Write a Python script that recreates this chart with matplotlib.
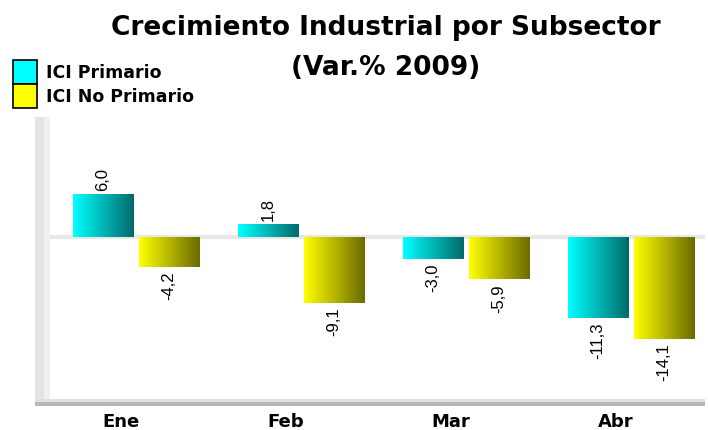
import numpy as np
import matplotlib.pyplot as plt
from matplotlib.patches import Rectangle

meses = ["Ene", "Feb", "Mar", "Abr"]
primario = [6.0, 1.8, -3.0, -11.3]
no_primario = [-4.2, -9.1, -5.9, -14.1]
series = ["ICI Primario", "ICI No Primario"]

fig = plt.figure(figsize=(7.08, 4.31), dpi=100)
ax = fig.add_axes([50 / 708, 26 / 431, 655 / 708, 285 / 431])

# pared y piso falsos 3D
fig.patches.append(Rectangle((35 / 708, 31 / 431), 15 / 708, 282 / 431,
                             transform=fig.transFigure, facecolor="#e4e4e4",
                             edgecolor="none", zorder=0))
fig.patches.append(Rectangle((44 / 708, 31 / 431), 6 / 708, 282 / 431,
                             transform=fig.transFigure, facecolor="#f0f0f0",
                             edgecolor="none", zorder=0))
fig.patches.append(Rectangle((35 / 708, 24 / 431), 670 / 708, 4 / 431,
                             transform=fig.transFigure, facecolor="#b8b8b8",
                             edgecolor="none", zorder=0))
fig.patches.append(Rectangle((35 / 708, 28 / 431), 670 / 708, 3 / 431,
                             transform=fig.transFigure, facecolor="#e0e0e0",
                             edgecolor="none", zorder=0))

x = np.arange(len(meses))
w = 0.364
off1, off2 = -0.11, 0.29

grad = np.linspace(0, 1, 64).reshape(1, -1)


def grad_bars(xs, vals, c_light, c_dark):
    c_light = np.array(c_light)
    c_dark = np.array(c_dark)
    img = c_light[None, None, :] * (1 - grad[..., None]) + c_dark[None, None, :] * grad[..., None]
    bars = ax.bar(xs, vals, width=w, color="none", edgecolor="none")
    for b, v in zip(bars, vals):
        x0 = b.get_x()
        y0, y1 = sorted([0, v])
        im = ax.imshow(img, extent=[x0, x0 + w, y0, y1], aspect="auto",
                       interpolation="bilinear", zorder=2)
        im.set_clip_path(b)
        lab = f"{v:.1f}".replace(".", ",")
        if v >= 0:
            ax.text(x0 + w / 2, v + 0.5, lab, rotation=90, ha="center", va="bottom",
                    fontsize=12, family="Liberation Sans")
        else:
            ax.text(x0 + w / 2, v - 0.5, lab, rotation=90, ha="center", va="top",
                    fontsize=12, family="Liberation Sans")
    return bars


ax.axhline(0, color="#e8e8e8", lw=3, zorder=1)
grad_bars(x + off1, primario, (0.0, 1.0, 1.0), (0.0, 0.42, 0.42))
grad_bars(x + off2, no_primario, (1.0, 1.0, 0.0), (0.42, 0.42, 0.0))

ax.set_xlim(-0.43, 3.54)
ax.set_ylim(-23.2, 16.4)
ax.set_xticks(x)
ax.set_xticklabels(meses, fontsize=13, fontweight="bold")
ax.tick_params(length=0, pad=6)
ax.set_yticks([])
for s in ax.spines.values():
    s.set_visible(False)
ax.patch.set_alpha(0)

fig.text(0.545, 0.935, "Crecimiento Industrial por Subsector", ha="center",
         va="center", fontsize=19, fontweight="bold")
fig.text(0.545, 0.842, "(Var.% 2009)", ha="center", va="center",
         fontsize=19, fontweight="bold")

# leyenda
cols = ["#00ffff", "#ffff00"]
for i, (nm, c) in enumerate(zip(series, cols)):
    y0 = 431 - 85 - i * 24
    fig.patches.append(Rectangle((13 / 708, y0 / 431), 24 / 708, 24 / 431,
                                 transform=fig.transFigure, facecolor=c,
                                 edgecolor="black", lw=1.2))
    fig.text(46 / 708, (y0 + 12) / 431, nm, ha="left", va="center",
             fontsize=12.5, fontweight="bold")

fig.savefig("out.png", dpi=100)
